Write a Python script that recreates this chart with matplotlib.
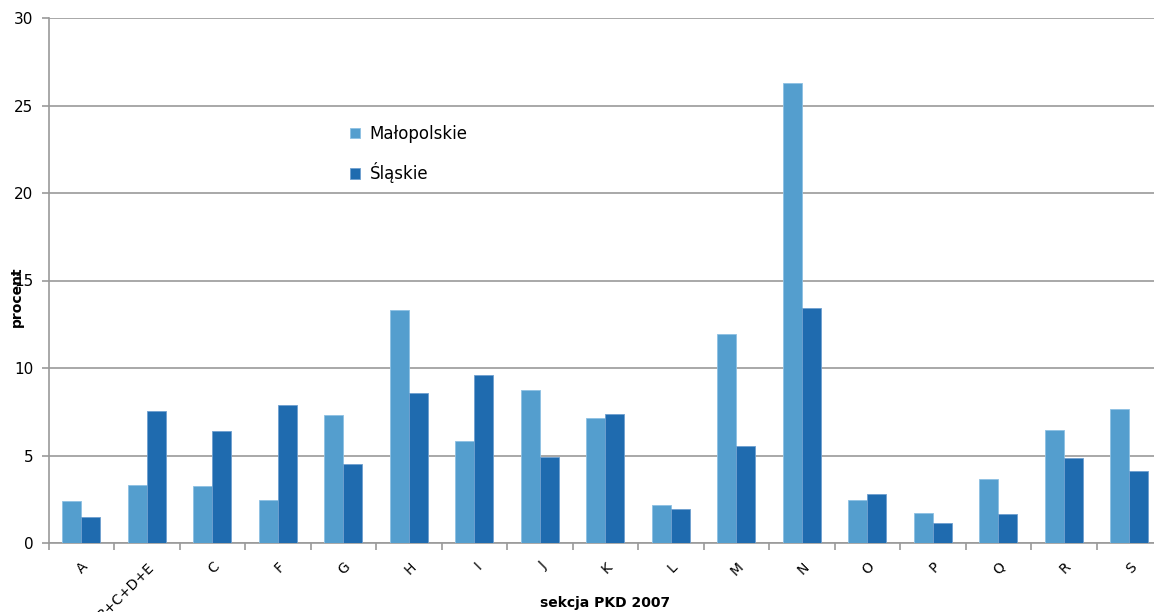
import matplotlib
matplotlib.use("Agg")
import matplotlib.pyplot as plt
import numpy as np

# dane
sekcje = ['A', 'B+C+D+E', 'C', 'F', 'G', 'H', 'I', 'J', 'K', 'L',
          'M', 'N', 'O', 'P', 'Q', 'R', 'S']
malopolskie = [2.42, 3.34, 3.26, 2.48, 7.33, 13.34, 5.84, 8.72, 7.17, 2.17,
               11.92, 26.27, 2.48, 1.72, 3.66, 6.47, 7.63]
slaskie = [1.49, 7.57, 6.39, 7.88, 4.52, 8.56, 9.58, 4.90, 7.40, 1.95,
           5.55, 13.41, 2.80, 1.16, 1.64, 4.83, 4.14]

kolor_mal = '#549ECE'
kolor_sl = '#1F6BAF'
szary = '#9A9A9A'

plt.rcParams['font.family'] = ['DejaVu Sans']

fig = plt.figure(figsize=(11.54, 6.12), dpi=100)
# os wychodzi poza prawa krawedz obrazka (jak w oryginale)
ax = fig.add_axes([48.5 / 1154, 69 / 612, 1113.5 / 1154, 525 / 612])

x = np.arange(len(sekcje))
w = 0.29
ax.bar(x - w / 2, malopolskie, w, color=kolor_mal, edgecolor='#8DC0E3',
       linewidth=0.6, label='Małopolskie', zorder=3)
ax.bar(x + w / 2, slaskie, w, color=kolor_sl, edgecolor='#6E9FCF',
       linewidth=0.6, label='Śląskie', zorder=3)

ax.set_xlim(-0.5, len(sekcje) - 0.5)
ax.set_ylim(0, 30)
ax.set_yticks(range(0, 31, 5))
ax.yaxis.grid(True, color=szary, linewidth=1.2, zorder=0)
ax.set_axisbelow(True)

# kreski na granicach kategorii, etykiety na srodkach
ax.set_xticks(np.arange(-0.5, len(sekcje), 1.0))
ax.set_xticklabels([])
ax.set_xticks(x, minor=True)
ax.set_xticklabels(sekcje, minor=True, rotation=45, ha='right',
                   rotation_mode='anchor', fontsize=10)
ax.tick_params(axis='x', which='major', length=5, color=szary, width=1.2)
ax.tick_params(axis='x', which='minor', length=0, pad=12)
ax.tick_params(axis='y', length=5, color=szary, width=1.2, labelsize=11, pad=6)

for s in ['top', 'right']:
    ax.spines[s].set_visible(False)
for s in ['left', 'bottom']:
    ax.spines[s].set_color(szary)
    ax.spines[s].set_linewidth(1.2)

fig.text(17 / 1154, 1 - 297 / 612, 'procent', rotation=90, fontsize=10,
         fontweight='bold', ha='center', va='center')
fig.text(605 / 1154, 1 - 603 / 612, 'sekcja PKD 2007', fontsize=10,
         fontweight='bold', ha='center', va='center')

ax.legend(loc='upper left', bbox_to_anchor=(286 / 1113.5, 1 - 92 / 525),
          frameon=False, fontsize=12, handlelength=0.6, handleheight=0.6,
          handletextpad=0.6, labelspacing=1.15)

fig.savefig('out.png', dpi=100)
